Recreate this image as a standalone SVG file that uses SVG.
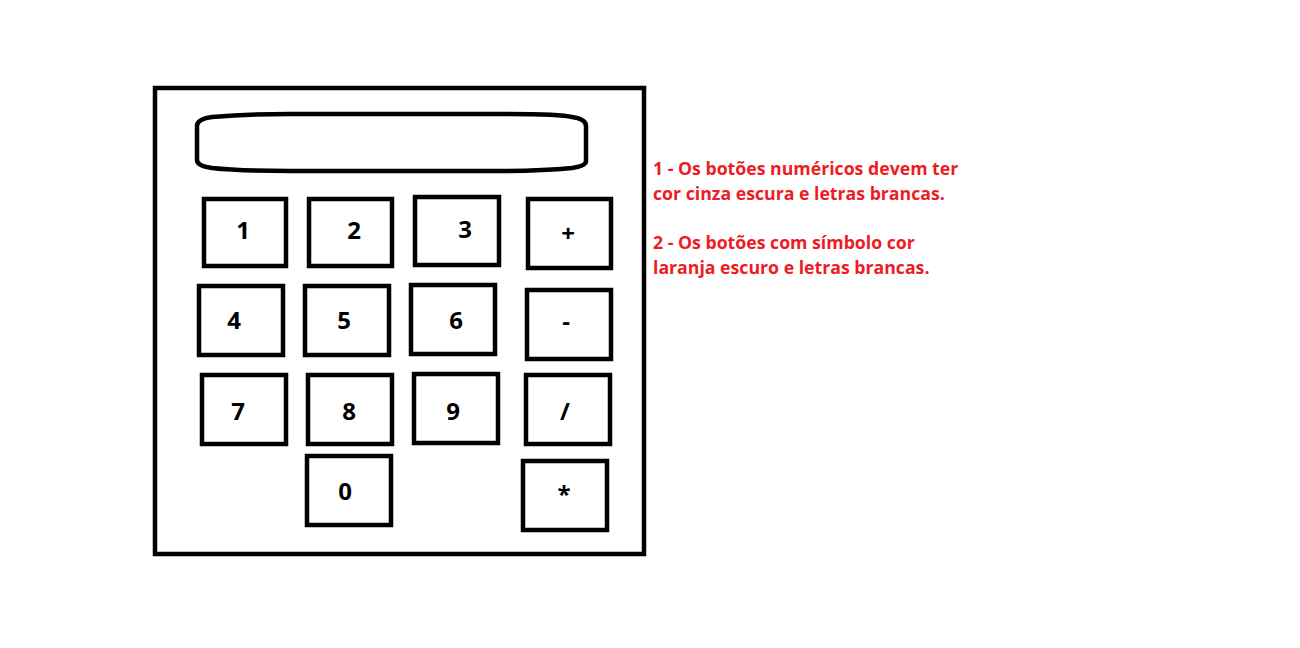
<svg xmlns="http://www.w3.org/2000/svg" width="1300" height="648" viewBox="0 0 1300 648">
<style>
.frame{fill:#fff;stroke:#000;stroke-width:4.5}
.btn{fill:#fff;stroke:#000;stroke-width:4.5}
.lbl{font-family:"Open Sans","Noto Sans",sans-serif;font-weight:bold;font-size:24px;fill:#000;text-anchor:middle}
.note{font-family:"Open Sans","Noto Sans",sans-serif;font-weight:bold;font-size:17.7px;fill:#ed1c24}
</style>
<rect width="1300" height="648" fill="#fff"/>
<g id="calculator">
<rect class="frame" x="155" y="88" width="489" height="466"/>
</g>
<g id="display">
<path class="frame" d="M197,126 Q197,119 212,117 Q250,114 290,114 L500,114 Q560,114 572,117 Q586,119 586,126 L586,161 Q586,166 572,168 Q540,171 500,171 L290,171 Q240,171 212,168 Q197,166 197,160 Z"/>
</g>
<g id="btn1"><rect class="btn" x="204" y="199" width="82" height="67"/><text class="lbl" x="243" y="239">1</text></g>
<g id="btn2"><rect class="btn" x="309" y="199" width="83" height="67"/><text class="lbl" x="354" y="239">2</text></g>
<g id="btn3"><rect class="btn" x="415" y="197" width="84" height="68"/><text class="lbl" x="465" y="238">3</text></g>
<g id="btnPlus"><rect class="btn" x="528" y="199" width="83" height="69"/><text class="lbl" x="568" y="242">+</text></g>
<g id="btn4"><rect class="btn" x="199" y="286" width="84" height="69"/><text class="lbl" x="234" y="329">4</text></g>
<g id="btn5"><rect class="btn" x="305" y="286" width="84" height="69"/><text class="lbl" x="344" y="329">5</text></g>
<g id="btn6"><rect class="btn" x="411" y="285" width="84" height="69"/><text class="lbl" x="456" y="329">6</text></g>
<g id="btnMinus"><rect class="btn" x="527" y="290" width="84" height="69"/><text class="lbl" x="566" y="330">-</text></g>
<g id="btn7"><rect class="btn" x="202" y="375" width="84" height="69"/><text class="lbl" x="238" y="420">7</text></g>
<g id="btn8"><rect class="btn" x="308" y="375" width="84" height="69"/><text class="lbl" x="349" y="420">8</text></g>
<g id="btn9"><rect class="btn" x="414" y="374" width="84" height="69"/><text class="lbl" x="453" y="420">9</text></g>
<g id="btnDiv"><rect class="btn" x="526" y="375" width="84" height="69"/><text class="lbl" x="565" y="420">/</text></g>
<g id="btn0"><rect class="btn" x="307" y="456" width="84" height="69"/><text class="lbl" x="345" y="500">0</text></g>
<g id="btnMul"><rect class="btn" x="523" y="461" width="84" height="69"/><text class="lbl" x="564" y="503">*</text></g>
<g id="notes">
<text class="note" x="653" y="175">1 - Os botões numéricos devem ter</text>
<text class="note" x="653" y="200">cor cinza escura e letras brancas.</text>
<text class="note" x="653" y="249">2 - Os botões com símbolo cor</text>
<text class="note" x="653" y="274">laranja escuro e letras brancas.</text>
</g>
</svg>
